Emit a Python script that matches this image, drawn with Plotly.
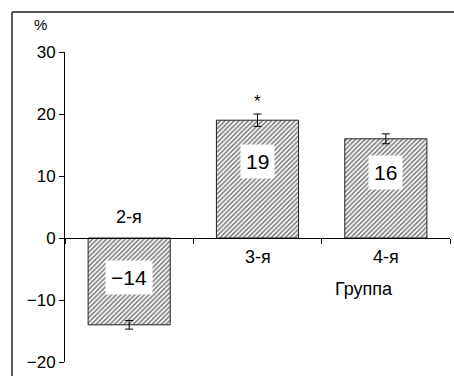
import plotly.graph_objects as go

groups = ["2-я", "3-я", "4-я"]
values = [-14, 19, 16]
errors = [0.7, 1.0, 0.8]
value_labels = ["\u221214", "19", "16"]
significance = ["", "*", ""]
y_tick_vals = [-20, -10, 0, 10, 20, 30]
y_tick_text = ["\u221220", "\u221210", "0", "10", "20", "30"]
axis_title_x = "Группа"
axis_title_y = "%"

FONT = "Arial, Liberation Sans, sans-serif"

fig = go.Figure()
fig.add_trace(go.Bar(
    x=groups, y=values, width=0.64,
    marker=dict(color="white", line=dict(color="#222", width=1),
                pattern=dict(shape="/", fgcolor="black", bgcolor="white", size=3.3, solidity=0.5)),
    error_y=dict(type="data", array=errors, color="black", thickness=1, width=4),
    showlegend=False, hoverinfo="skip",
))

label_shift = [4, 18, 16]
for g, v, t, s in zip(groups, values, value_labels, label_shift):
    fig.add_annotation(x=g, y=v / 2, text=t, showarrow=False, yshift=s,
                       font=dict(family=FONT, size=21, color="black"),
                       bgcolor="white", borderpad=5)

for g, v, e, star in zip(groups, values, errors, significance):
    if star:
        fig.add_annotation(x=g, y=v + e, text=star, showarrow=False, yanchor="bottom", yshift=1,
                           font=dict(family=FONT, size=17, color="black"))

# category names: above axis for negative bars, below for positive
for g, v in zip(groups, values):
    fig.add_annotation(x=g, y=0, text=g, showarrow=False,
                       yanchor="bottom" if v < 0 else "top",
                       yshift=9 if v < 0 else -7,
                       font=dict(family=FONT, size=18, color="black"))

fig.add_annotation(x=2, y=0, text=axis_title_x, showarrow=False, yanchor="top", yshift=-39, xshift=-22,
                   font=dict(family=FONT, size=18, color="black"))
fig.add_annotation(xref="paper", yref="paper", x=-0.085, y=1.0, text=axis_title_y, showarrow=False,
                   yanchor="bottom", yshift=17, font=dict(family=FONT, size=15, color="black"))

# outer frame (top and left edges visible in the crop)
frame = dict(color="#555", width=2)
fig.add_shape(type="line", xref="paper", yref="paper", x0=-0.1377, y0=1.129, x1=1.1, y1=1.129,
              line=frame, layer="below")
fig.add_shape(type="line", xref="paper", yref="paper", x0=-0.1377, y0=1.129, x1=-0.1377, y1=-0.2,
              line=frame, layer="below")

fig.update_layout(
    width=454, height=376,
    margin=dict(l=65, r=4, t=52, b=14),
    paper_bgcolor="white", plot_bgcolor="white",
    font=dict(family=FONT, color="black"),
    xaxis=dict(type="category", range=[-0.5, 2.5], anchor="free", position=0.4,
               showline=True, linecolor="black", linewidth=1,
               ticks="outside", tickson="boundaries", ticklen=5, tickcolor="black",
               showticklabels=False, showgrid=False, zeroline=False),
    yaxis=dict(range=[-20, 30], tickvals=y_tick_vals, ticktext=y_tick_text,
               showline=True, linecolor="black", linewidth=1,
               ticks="outside", ticklen=5, tickcolor="black",
               tickfont=dict(family=FONT, size=17, color="black"),
               showgrid=False, zeroline=False),
)

fig.write_html(
    "out.html",
    config={"displayModeBar": False},
    post_script=("document.body.style.margin='0';"
                 "document.body.style.overflow='hidden';"
                 "document.documentElement.style.overflow='hidden';"),
)
